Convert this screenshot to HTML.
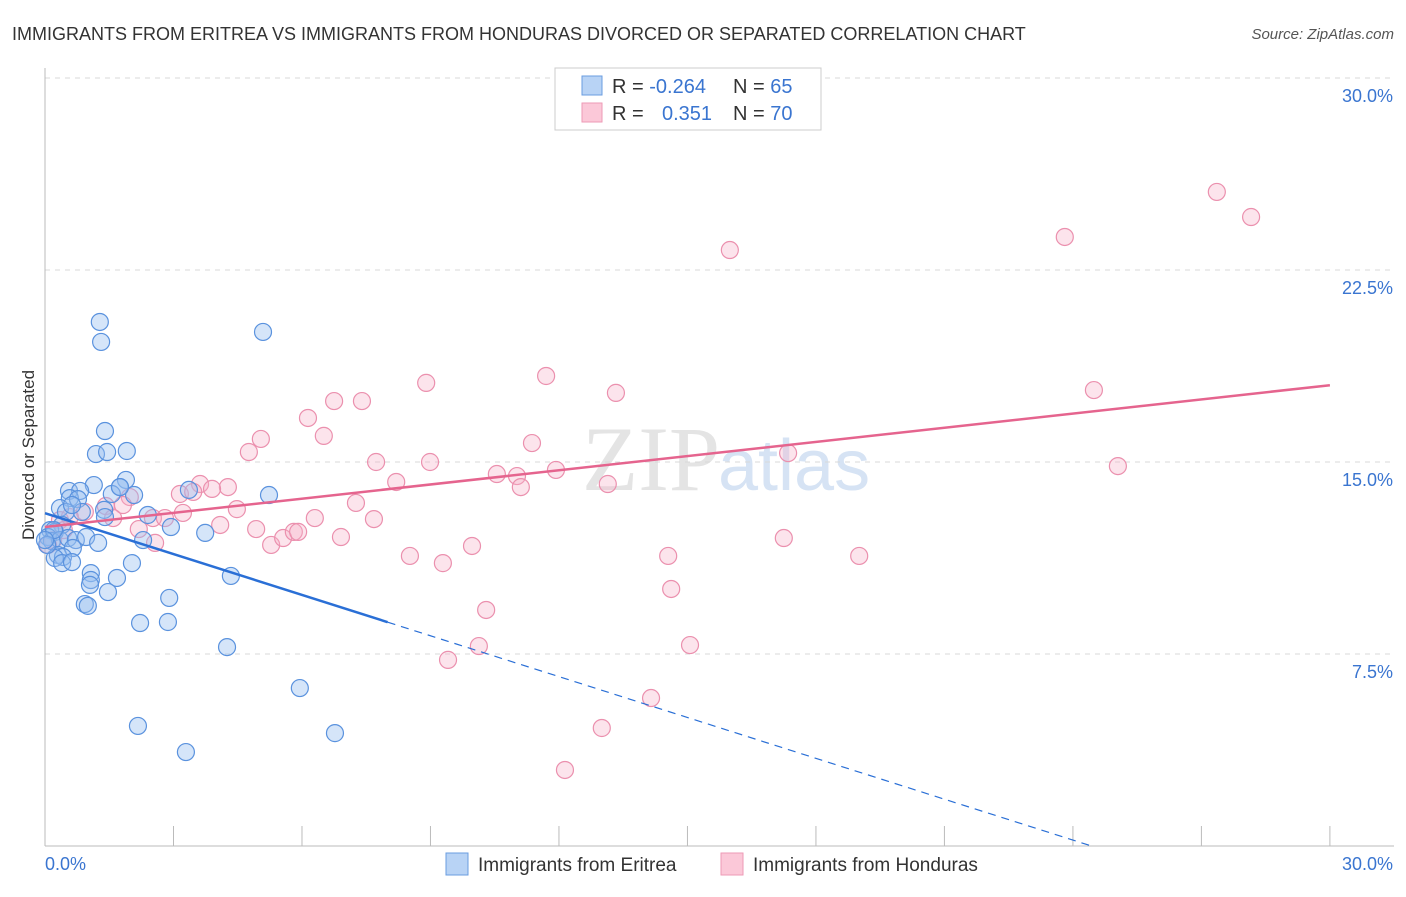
<!DOCTYPE html>
<html><head><meta charset="utf-8"><style>
body{margin:0;background:#fff;font-family:"Liberation Sans",sans-serif;}
</style></head><body>
<svg width="1406" height="892" xmlns="http://www.w3.org/2000/svg" id="chart">
<text x="12" y="40" font-size="18" fill="#333">IMMIGRANTS FROM ERITREA VS IMMIGRANTS FROM HONDURAS DIVORCED OR SEPARATED CORRELATION CHART</text>
<text x="1394" y="39" font-size="15" fill="#555" font-style="italic" text-anchor="end">Source: ZipAtlas.com</text>
<text x="720" y="490" font-size="92" fill="#e4e4e4" text-anchor="end" font-family="Liberation Serif,serif">ZIP</text>
<text x="718" y="490" font-size="72" fill="#d6e3f4">atlas</text>
<g id="grid"></g>
<g id="axes"></g>
<text transform="translate(34,455) rotate(-90)" font-size="17" fill="#333" text-anchor="middle">Divorced or Separated</text>
<g id="marks"></g>
<g id="trends"></g>
<g>
<rect x="555" y="68" width="266" height="62" fill="#fff" stroke="#ccc"/>
<rect x="582" y="76" width="20" height="19" fill="#b8d3f5" stroke="#6a9de0"/>
<rect x="582" y="103" width="20" height="19" fill="#fbc8d8" stroke="#ee9ab6"/>
<text x="612" y="93" font-size="20" fill="#333">R = <tspan fill="#3a75d0">-0.264</tspan></text>
<text x="733" y="93" font-size="20" fill="#333">N = <tspan fill="#3a75d0">65</tspan></text>
<text x="612" y="120" font-size="20" fill="#333">R = <tspan x="662" fill="#3a75d0">0.351</tspan></text>
<text x="733" y="120" font-size="20" fill="#333">N = <tspan fill="#3a75d0">70</tspan></text>
</g>
<g>
<rect x="446" y="853" width="22" height="22" fill="#b8d3f5" stroke="#6a9de0"/>
<text x="478" y="871" font-size="19" fill="#333">Immigrants from Eritrea</text>
<rect x="721" y="853" width="22" height="22" fill="#fbc8d8" stroke="#ee9ab6"/>
<text x="753" y="871" font-size="19" fill="#333">Immigrants from Honduras</text>
</g>
</svg>
<script>
const yTicks=[7.5,15,22.5,30];
const yTickLabels=["7.5%","15.0%","22.5%","30.0%"];
const xTickVals=[0,3,6,9,12,15,18,21,24,27,30];
const xEndLabels=["0.0%","30.0%"];
const eritreaX=[1.28,1.31,5.09,1.40,1.19,1.45,1.91,1.14,1.89,1.75,0.56,0.82,0.58,0.77,1.38,1.56,2.08,1.75,3.36,5.23,0.35,0.49,0.86,0.40,0.12,0.23,0.07,0.16,0.35,0.54,0.72,0.96,1.24,0.65,0.30,0.42,0.23,0.40,0.63,1.07,1.07,1.68,2.03,1.05,1.47,0.93,1.00,2.90,2.87,2.22,4.34,4.25,2.94,2.29,3.74,2.40,5.95,2.17,3.29,6.77,1.40,0.63,0.21,0.05,0.0];
const eritreaY=[20.47,19.69,20.08,16.21,15.31,15.39,15.43,14.10,14.30,14.02,13.87,13.87,13.59,13.55,13.13,13.75,13.71,14.02,13.91,13.71,13.20,13.05,13.05,12.54,12.34,12.27,12.07,11.91,11.95,12.03,11.95,12.07,11.84,11.64,11.37,11.29,11.25,11.05,11.09,10.66,10.39,10.47,11.05,10.20,9.92,9.45,9.38,9.69,8.75,8.71,10.55,7.77,12.46,11.95,12.23,12.93,6.17,4.69,3.67,4.41,12.85,13.32,12.34,11.76,11.95];
const hondurasX=[27.36,28.16,23.81,15.99,24.49,25.05,11.70,8.90,13.33,6.75,7.40,6.14,6.51,5.04,4.76,11.37,7.73,8.99,11.93,10.55,11.02,11.11,13.14,8.20,17.35,3.62,4.27,3.15,3.90,3.46,7.26,4.48,1.42,1.98,1.82,0.93,1.59,0.35,2.52,2.80,3.22,4.09,4.93,6.30,7.68,2.19,2.57,5.28,5.56,5.81,5.91,6.91,17.25,8.52,9.29,9.97,14.55,19.01,14.62,10.30,10.13,9.41,15.06,14.15,13.00,12.14,0.58,0.19,0.44,0.07];
const hondurasY=[25.55,24.57,23.79,23.28,17.81,14.84,18.36,18.09,17.70,17.38,17.38,16.72,16.02,15.90,15.39,15.74,15.00,15.00,14.69,14.53,14.45,14.02,14.14,14.22,15.35,14.14,14.02,13.75,13.95,13.83,13.40,13.16,13.28,13.63,13.32,13.05,12.81,12.73,12.81,12.81,13.01,12.54,12.38,12.81,12.77,12.38,11.84,11.76,12.03,12.27,12.27,12.07,12.03,11.33,11.05,11.72,11.33,11.33,10.04,9.22,7.81,7.27,7.85,5.78,4.61,2.97,12.85,11.95,12.34,11.76];
const eritreaTrend=[13.0,-0.532,8];   // intercept, slope, solid end
const hondurasTrend=[12.46,18.0];      // value at 0 and at 30
const NS="http://www.w3.org/2000/svg";
const X=v=>45+v*42.83, Y=v=>846-v*25.6;
function mk(tag,attrs,parent){const e=document.createElementNS(NS,tag);for(const k in attrs)e.setAttribute(k,attrs[k]);parent.appendChild(e);return e;}
const grid=document.getElementById('grid'),axes=document.getElementById('axes'),marks=document.getElementById('marks'),trends=document.getElementById('trends');
yTicks.forEach((t,i)=>{
 const l=mk('line',{x1:45,x2:1394,y1:Y(t),y2:Y(t),stroke:'#d8d8d8','stroke-dasharray':'5,5'},grid);
 
 
 const tx=mk('text',{x:1393,y:Y(t)+24,'font-size':18,fill:'#3a75d0','text-anchor':'end'},axes);
 tx.textContent=yTickLabels[i];
 
 
});
const ax=mk('line',{x1:45,x2:1394,y1:846,y2:846,stroke:'#bbb'},axes);


const ay=mk('line',{x1:45,x2:45,y1:68,y2:846,stroke:'#bbb'},axes);


xTickVals.forEach(t=>{
 const l=mk('line',{x1:X(t),x2:X(t),y1:826,y2:846,stroke:'#bbb'},axes);
 
 
});
[0,30].forEach((t,i)=>{
 const tx=mk('text',{x:i?1393:45,y:870,'font-size':18,fill:'#3a75d0','text-anchor':i?'end':'start'},axes);
 tx.textContent=xEndLabels[i];
 
 
});
hondurasX.forEach((x,i)=>{
 const c=mk('circle',{cx:X(x),cy:Y(hondurasY[i]),r:8.5,fill:'rgba(246,178,200,0.35)',stroke:'#eb90ae','stroke-width':1.2},marks);
 
 
});
eritreaX.forEach((x,i)=>{
 const c=mk('circle',{cx:X(x),cy:Y(eritreaY[i]),r:8.5,fill:'rgba(150,190,240,0.4)',stroke:'#5a92de','stroke-width':1.2},marks);
 
 
});
const ef=x=>eritreaTrend[0]+eritreaTrend[1]*x;
const xe=-eritreaTrend[0]/eritreaTrend[1];
const t1=mk('line',{x1:X(0),y1:Y(ef(0)),x2:X(eritreaTrend[2]),y2:Y(ef(eritreaTrend[2])),stroke:'#2a6fd6','stroke-width':2.5},trends);


const t2=mk('line',{x1:X(eritreaTrend[2]),y1:Y(ef(eritreaTrend[2])),x2:X(xe),y2:Y(0),stroke:'#2a6fd6','stroke-width':1.2,'stroke-dasharray':'8,6'},trends);


const t3=mk('line',{x1:X(0),y1:Y(hondurasTrend[0]),x2:X(30),y2:Y(hondurasTrend[1]),stroke:'#e5648e','stroke-width':2.5},trends);


</script>
</body></html>
